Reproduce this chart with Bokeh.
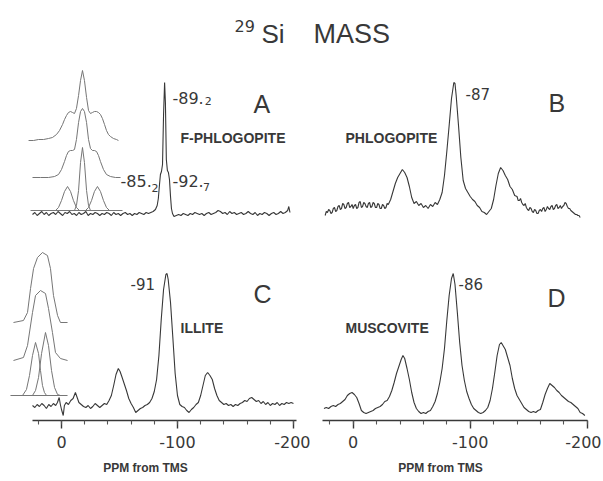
from bokeh.plotting import figure
from bokeh.layouts import column, row
from bokeh.models import Range1d, FixedTicker, Label
from bokeh.embed import file_html
from bokeh.resources import INLINE

# ---------------- data (ppm from TMS, intensity in arbitrary units) ----------------
A_PPM = [25, 23, 21, 19, 17, 15, 13, 11, 9, 7,
         5, 3, 1, -1, -3, -5, -7, -9, -11, -13,
         -15, -17, -19, -21, -23, -25, -27, -29, -31, -33,
         -35, -37, -39, -41, -43, -45, -47, -49, -51, -53,
         -55, -57, -59, -61, -63, -65, -67, -69, -71, -73,
         -75, -77, -79, -81, -82.5, -83.5, -84.5, -85.3, -86.2, -87.1,
         -88, -88.9, -89.6, -90.4, -91.3, -92.2, -93.1, -94, -94.8, -95.7,
         -97, -99, -101, -103, -105, -107, -109, -111, -113, -115,
         -117, -119, -121, -123, -125, -127, -129, -131, -133, -135,
         -137, -139, -141, -143, -145, -147, -149, -151, -153, -155,
         -157, -159, -161, -163, -165, -167, -169, -171, -173, -175,
         -177, -179, -181, -183, -185, -187, -189, -191, -193, -195,
         -196, -197]
A_INT = [0, 2, -1, 1, 3, 0, 2, -1, 1, 2,
         0, 3, 1, -1, 2, 1, 3, 0, 1, -1,
         2, 0, 1, 3, -1, 1, 0, 2, 1, -1,
         1, 0, 2, 1, -1, 2, 0, 1, -1, 1,
         2, 0, 1, -1, 1, 0, 2, 1, 0, 2,
         1, 2, 3, 5, 9, 16, 30, 40, 43, 50,
         100, 132, 112, 55, 44, 42, 35, 18, 6, 1,
         -2, -1, 0, -1, 1, 0, -1, 1, 0, 2,
         1, 0, 1, -1, 1, 2, 0, 1, 2, 4,
         3, 1, 2, 0, 3, 1, 2, 0, 1, 2,
         0, 1, 3, 1, 0, 2, -1, 1, 0, 2,
         1, -1, 1, 2, 0, 1, 3, 1, 2, 4,
         8, 2]

# F-phlogopite inset: expanded spectrum, sum of fit, and the three fitted lines
A_IN_TOP_PPM = [28.4, 24.1, 19.8, 15.5, 11.2, 7.8, 4.3, 1.7, -0.9, -2.6,
                -4.3, -6.0, -7.8, -9.5, -11.2, -12.9, -14.7, -16.4, -18.1, -19.8,
                -21.6, -23.3, -25.0, -26.7, -28.4, -30.2, -31.9, -33.6, -35.3, -37.1,
                -38.8, -40.5, -42.2, -44.8, -47.4, -49.1]
A_IN_TOP = [0, 0, 1, 1, 2, 3, 6, 10, 16, 21,
            25, 28, 29, 28, 27, 32, 45, 60, 70, 60,
            43, 30, 27, 28, 29, 29, 28, 26, 22, 16,
            10, 6, 4, 2, 1, 0]
A_IN_SUM_PPM = [25, 18.1, 11.2, 6.0, 2.6, 0, -2.6, -4.3, -6.0, -7.8,
                -9.5, -11.2, -12.9, -14.7, -16.4, -18.1, -19.8, -21.6, -23.3, -25.0,
                -26.7, -28.4, -30.2, -31.9, -33.6, -36.2, -38.8, -42.2, -46.6, -50.9]
A_IN_SUM = [0, 0, 0, 1, 3, 8, 16, 22, 26, 27,
            27, 28, 38, 55, 66, 69, 66, 55, 38, 29,
            27, 27, 26, 22, 16, 8, 3, 1, 0, 0]
A_IN_BASE_PPM = [26.7, -52.6]
A_IN_BASE = [0, 0]
A_IN_G1_PPM = [5.2, 2.6, 0, -2.6, -5.2, -7.8, -10.3, -12.9, -15.5]
A_IN_G1 = [0, 3, 10, 19, 24, 19, 10, 3, 0]
A_IN_G2_PPM = [-11.2, -12.9, -14.7, -16.4, -18.1, -19.8, -21.6, -23.3, -25.0]
A_IN_G2 = [0, 5, 20, 48, 63, 48, 20, 5, 0]
A_IN_G3_PPM = [-20.7, -23.3, -25.9, -28.4, -31.0, -33.6, -36.2, -38.8, -41.4]
A_IN_G3 = [0, 3, 10, 19, 24, 19, 10, 3, 0]

B_PPM = [24, 23, 22, 21, 20, 19, 18, 17, 16, 15,
         14, 13, 12, 11, 10, 9, 8, 7, 6, 5,
         4, 3, 2, 1, 0, -1, -2, -3, -4, -5,
         -6, -7, -8, -9, -10, -11, -12, -13, -14, -15,
         -16, -17, -18, -19, -20, -21, -22, -23, -24, -25,
         -26, -27, -28, -29, -30,
         -32, -34, -36, -38, -40, -42, -44, -46, -48, -50,
         -52, -54, -56, -58, -60, -62, -64, -66, -68, -70,
         -72, -74, -76, -78, -80, -82, -84, -86, -87, -88,
         -90, -92, -94, -96, -98, -100, -102, -104, -106, -108,
         -110, -112, -114, -116, -118, -120, -122, -124, -126, -128,
         -130, -132, -134, -136, -138,
         -140, -141, -142, -143, -144, -145, -146, -147, -148, -149,
         -150, -151, -152, -153, -154, -155, -156, -157, -158, -159,
         -160, -161, -162, -163, -164, -165, -166, -167, -168, -169,
         -170, -171, -172, -173, -174, -175, -176, -177, -178, -179,
         -180, -181, -182, -183, -184, -185, -186, -187, -188, -189,
         -190, -191, -192, -193, -194]
B_INT = [-2, 2, 1, 4, 3, 0, 1, 5, 6, 2,
         3, 7, 8, 4, 5, 10, 9, 5, 6, 10,
         11, 6, 7, 9, 5, 8, 9, 5, 6, 11,
         12, 6, 7, 11, 10, 7, 6, 10, 11, 6,
         7, 11, 10, 6, 6, 10, 9, 5, 5, 9,
         8, 5, 6, 10, 9,
         14, 22, 30, 36, 40, 44, 41, 36, 27, 16,
         10, 12, 8, 10, 6, 8, 5, 9, 7, 11,
         9, 14, 21, 38, 62, 88, 115, 131, 130, 118,
         88, 56, 33, 25, 21, 17, 14, 12, 8, 6,
         2, 1, -1, 2, 5, 14, 28, 40, 46, 43,
         38, 34, 27, 24, 18,
         17, 13, 13, 15, 11, 9, 8, 10, 6, 4,
         3, 6, 5, 2, 1, 4, 3, 0, 0, 3,
         4, 2, 5, 6, 2, 4, 7, 5, 4, 7,
         8, 4, 5, 8, 9, 5, 6, 8, 5, 7,
         8, 11, 10, 7, 5, 5, 3, 2, 1, 0,
         -1, -1, -2, -2, -4]

C_PPM = [25, 23, 21, 19, 17, 15, 13, 11, 9, 7,
         5, 3.5, 2, 1, 0, -1.5, -2.5, -4, -6, -8,
         -10, -12, -13.5, -15, -17, -19, -21, -23, -25, -27,
         -29, -31, -33, -35, -37, -39, -41, -43, -45, -47,
         -49, -50.5, -52, -54, -56, -58, -60, -62, -64, -66,
         -68, -70, -72, -74, -76, -78, -80, -82, -84, -86,
         -88, -90, -91, -92, -94, -96, -98, -100, -102, -104,
         -106, -108, -110, -112, -114, -116, -118, -120, -122, -124,
         -126, -128, -130, -132, -134, -136, -138, -140, -142, -144,
         -146, -148, -150, -152, -154, -156, -158, -160, -162, -164,
         -166, -168, -170, -172, -174, -176, -178, -180, -182, -184,
         -186, -188, -190, -192, -194, -196, -198, -200]
C_INT = [2, 0, 3, 1, 4, 2, -1, 3, 1, 4,
         2, 5, 10, 3, -2, -8, 2, 5, 3, 7,
         9, 15, 10, 5, 3, 1, 0, 2, -1, 1,
         4, 2, 0, 2, 4, 3, 7, 12, 22, 33,
         39, 36, 31, 24, 17, 9, 4, 0, -5, -3,
         -1, 0, 2, 3, 5, 9, 16, 28, 52, 88,
         118, 133, 134, 128, 105, 70, 34, 12, 3, 1,
         0, -3, -5, -2, 0, 3, 5, 12, 22, 32,
         35, 32, 28, 19, 12, 7, 5, 3, 4, 2,
         3, 1, 3, 2, 4, 5, 7, 6, 9, 10,
         8, 6, 7, 4, 6, 3, 5, 2, 4, 3,
         5, 2, 4, 3, 5, 4, 5, 4]

# illite inset
C_IN_TOP_PPM = [41.4, 32.8, 29.3, 26.7, 24.1, 20.7, 16.4, 12.1, 9.5, 6.9, 3.4, 0.9, -5.2]
C_IN_TOP = [0, 2, 10, 34, 54, 65, 70, 67, 54, 27, 7, 0, 0]
C_IN_SUM_PPM = [41.4, 32.8, 29.3, 25, 22.4, 18.1, 13.8, 11.2, 7.8, 5.2, 0.9, -5.2]
C_IN_SUM = [0, 3, 15, 48, 65, 70, 67, 52, 28, 8, 2, 0]
C_IN_BASE_PPM = [44, -5.2]
C_IN_BASE = [0, 0]
C_IN_G1_PPM = [33.6, 30.2, 27.6, 25, 22.4, 19.8, 18.1, 16.4, 14.7, 12.9]
C_IN_G1 = [0, 6, 20, 40, 53, 42, 25, 10, 3, 0]
C_IN_G2_PPM = [25, 22.4, 19.8, 17.2, 13.8, 11.2, 8.6, 6, 3.4, 0.9]
C_IN_G2 = [0, 5, 18, 42, 63, 50, 25, 8, 1, 0]

D_PPM = [25, 23, 21, 19, 17, 15, 13, 11, 9, 7,
         5, 3, 1, -1, -3, -5, -7, -9, -11, -13,
         -15, -17, -19, -21, -23, -25, -27, -29, -31, -33,
         -35, -37, -39, -41, -42.5, -44, -46, -48, -50, -52,
         -54, -56, -58, -60, -62, -64, -66, -68, -70, -72,
         -74, -76, -78, -80, -82, -84, -85.5, -87, -89, -91,
         -93, -95, -97, -99, -101, -103, -105, -107, -109, -111,
         -113, -115, -117, -119, -121, -123, -125, -126.5, -128, -130,
         -132, -134, -136, -138, -140, -142, -144, -146, -148, -150,
         -152, -154, -156, -158, -160, -162, -164, -166, -168, -170,
         -172, -174, -176, -178, -180, -182, -184, -186, -188, -190,
         -192, -194, -196, -198]
D_INT = [2, 3, 2, 4, 5, 4, 6, 7, 9, 11,
         15, 17, 18, 16, 13, 7, 0, -2, -3, -2,
         -1, 0, 2, 3, 4, 6, 9, 10, 14, 20,
         28, 37, 44, 51, 55, 52, 42, 31, 18, 8,
         2, -1, -3, -2, -3, -1, 0, 4, 9, 17,
         28, 42, 62, 90, 115, 132, 137, 126, 98, 68,
         45, 30, 19, 12, 6, 2, 0, -2, -3, -2,
         0, 3, 10, 22, 38, 55, 66, 68, 65, 61,
         53, 45, 32, 22, 15, 11, 7, 3, 1, -1,
         -2, -1, -2, 0, 1, 8, 16, 22, 27, 25,
         23, 20, 18, 15, 13, 11, 9, 8, 6, 4,
         2, -2, -3, -5]

MAJOR_TICKS = [0, -100, -200]
MINOR_TICKS = [20, 0, -20, -40, -60, -80, -100, -120, -140, -160, -180, -200]
TICK_LABELS = {0: "0", -100: "-100", -200: "-200"}

# ---------------- styling ----------------
INK = "#383838"
GREY = "#767676"
FONT = "Liberation Sans"
NUM = "DejaVu Sans"


def bare(p):
    p.grid.visible = False
    p.outline_line_color = None
    p.background_fill_color = "white"
    p.border_fill_color = "white"


def panel(width, height, xr, yr, axis=False, bounds=None, left=0):
    p = figure(width=width, height=height, x_range=Range1d(*xr), y_range=Range1d(*yr),
               output_backend="svg", toolbar_location=None, min_border=0,
               x_axis_location="below" if axis else None, y_axis_location=None)
    p.min_border_left = left
    bare(p)
    if axis:
        ax = p.xaxis[0]
        ax.ticker = FixedTicker(ticks=MAJOR_TICKS, minor_ticks=MINOR_TICKS)
        ax.bounds = bounds
        ax.major_label_overrides = TICK_LABELS
        ax.axis_line_color = INK
        ax.axis_line_width = 1.6
        ax.major_tick_line_color = INK
        ax.minor_tick_line_color = "#555555"
        ax.major_tick_line_width = 1.4
        ax.minor_tick_line_width = 1.1
        ax.major_tick_out = 8
        ax.major_tick_in = 0
        ax.minor_tick_out = 4
        ax.minor_tick_in = 0
        ax.major_label_text_font = NUM
        ax.major_label_text_font_size = "16px"
        ax.major_label_text_color = INK
        ax.major_label_standoff = 7
        p.min_border_bottom = 33
    return p


def lab(p, x, y, text, size, style="normal", font=FONT, align="left", baseline="alphabetic"):
    p.add_layout(Label(x=x, y=y, text=text, text_font=font, text_font_size=size,
                       text_font_style=style, text_color=INK, text_align=align,
                       text_baseline=baseline))


def shifted(vals, off):
    return [v + off for v in vals]


LEFT_X = (45.7, -214.7)
RIGHT_X = (36.5, -212.2)

# ---------------- title ----------------
t = figure(width=601, height=55, x_range=Range1d(0, 601), y_range=Range1d(0, 55),
           output_backend="svg", toolbar_location=None, min_border=0,
           x_axis_location=None, y_axis_location=None)
bare(t)
lab(t, 234, 30, "29", "16px", font=NUM)
lab(t, 261, 22, "Si", "26px")
lab(t, 313, 22, "MASS", "27px")

# ---------------- A ----------------
pA = panel(310, 175, LEFT_X, (-16, 159), left=8)
pA.line(A_PPM, A_INT, line_color=INK, line_width=1.1)
pA.line(A_IN_TOP_PPM, shifted(A_IN_TOP, 74), line_color=GREY, line_width=1)
pA.line(A_IN_SUM_PPM, shifted(A_IN_SUM, 37), line_color=GREY, line_width=1)
for xs, ys in [(A_IN_BASE_PPM, A_IN_BASE), (A_IN_G1_PPM, A_IN_G1),
               (A_IN_G2_PPM, A_IN_G2), (A_IN_G3_PPM, A_IN_G3)]:
    pA.line(xs, shifted(ys, 4), line_color=GREY, line_width=1)
lab(pA, -165.5, 111, "A", "25px")
lab(pA, -102.6, 77, "F-PHLOGOPITE", "14px", "bold")
lab(pA, -95.7, 117, "-89.", "16px", font=NUM)
lab(pA, -123.5, 114, "2", "11px", font=NUM)
lab(pA, -50.9, 34, "-85.", "16px", font=NUM)
lab(pA, -77.5, 27, "2", "11px", font=NUM)
lab(pA, -95.7, 34, "-92.", "16px", font=NUM)
lab(pA, -122, 28, "7", "11px", font=NUM)

# ---------------- B ----------------
pB = panel(291, 175, RIGHT_X, (-17, 158))
pB.line(B_PPM, B_INT, line_color=INK, line_width=1.1)
lab(pB, -166.9, 111, "B", "25px")
lab(pB, 6.6, 76, "PHLOGOPITE", "14px", "bold")
lab(pB, -96, 120, "-87", "15px", font=NUM)

# ---------------- C ----------------
pC = panel(310, 223, LEFT_X, (-13, 177), axis=True, bounds=(-203, 25), left=8)
pC.line(C_PPM, C_INT, line_color=INK, line_width=1.1)
pC.line(C_IN_TOP_PPM, shifted(C_IN_TOP, 85), line_color=GREY, line_width=1)
pC.line(C_IN_SUM_PPM, shifted(C_IN_SUM, 47), line_color=GREY, line_width=1)
for xs, ys in [(C_IN_BASE_PPM, C_IN_BASE), (C_IN_G1_PPM, C_IN_G1), (C_IN_G2_PPM, C_IN_G2)]:
    pC.line(xs, shifted(ys, 12), line_color=GREY, line_width=1)
lab(pC, -165.5, 114, "C", "25px")
lab(pC, -102.6, 80, "ILLITE", "14px", "bold")
lab(pC, -59.5, 124, "-91", "15px", font=NUM)

# ---------------- D ----------------
pD = panel(291, 223, RIGHT_X, (-10, 180), axis=True, bounds=(-200, 26))
pD.line(D_PPM, D_INT, line_color=INK, line_width=1.1)
lab(pD, -166.1, 113, "D", "25px")
lab(pD, 6.6, 83, "MUSCOVITE", "14px", "bold")
lab(pD, -90, 127, "-86", "15px", font=NUM)

# ---------------- axis titles strip ----------------
s = figure(width=601, height=26, x_range=Range1d(0, 601), y_range=Range1d(0, 26),
           output_backend="svg", toolbar_location=None, min_border=0,
           x_axis_location=None, y_axis_location=None)
bare(s)
lab(s, 145, 12, "PPM from TMS", "12px", "bold", align="center", baseline="middle")
lab(s, 440, 12, "PPM from TMS", "12px", "bold", align="center", baseline="middle")

layout = column(t, row(pA, pB), row(pC, pD), s)
open("out.html", "w").write(file_html(layout, INLINE))
